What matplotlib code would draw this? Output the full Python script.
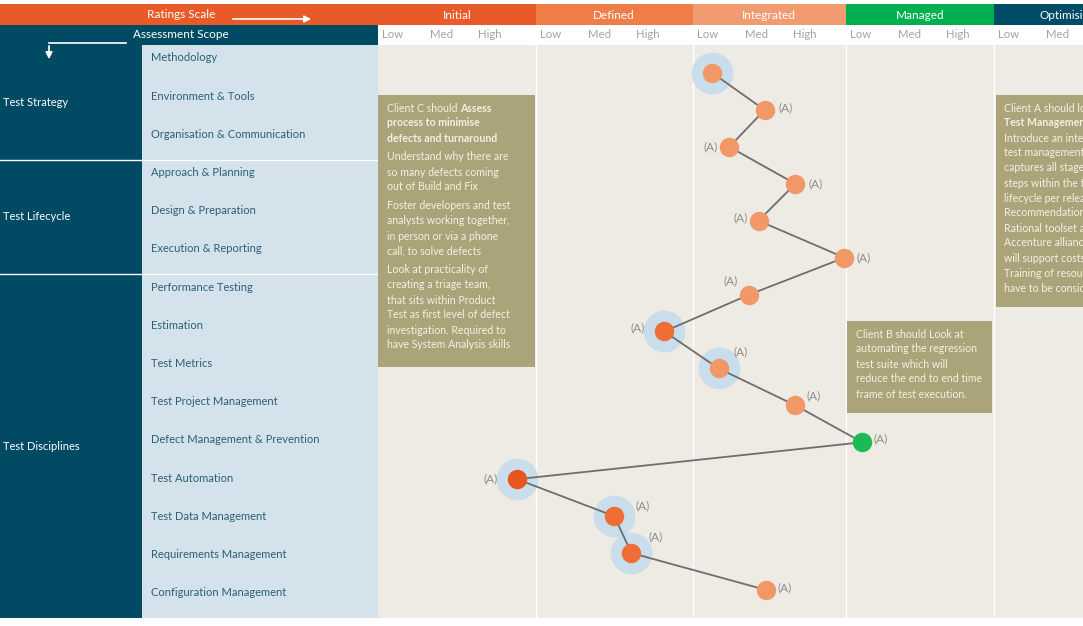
import matplotlib

matplotlib.use("Agg")
import matplotlib.pyplot as plt  # noqa: E402
import numpy as np  # noqa: E402
from matplotlib.patches import Rectangle, FancyArrowPatch  # noqa: E402

plt.rcParams["font.family"] = ["Lato", "DejaVu Sans"]

# --- data -----------------------------------------------------------------
stages = ["Initial", "Defined", "Integrated", "Managed", "Optimising"]
levels = ["Low", "Med", "High"]
groups = ["Test Strategy", "Test Lifecycle", "Test Disciplines"]
group_sizes = [3, 3, 9]
areas = ["Methodology", "Environment & Tools", "Organisation & Communication",
         "Approach & Planning", "Design & Preparation", "Execution & Reporting",
         "Performance Testing", "Estimation", "Test Metrics",
         "Test Project Management", "Defect Management & Prevention",
         "Test Automation", "Test Data Management", "Requirements Management",
         "Configuration Management"]
# rating in stage units: 0 = start of Initial, 1 = start of Defined, ...
scores = [2.13, 2.47, 2.24, 2.67, 2.43, 2.99, 2.37, 1.82, 2.17, 2.67, 3.11,
          0.88, 1.50, 1.61, 2.48]
highlighted = [1, 0, 0, 0, 0, 0, 0, 1, 1, 0, 0, 1, 1, 1, 0]
point_labels = ["", "(A)", "(A)", "(A)", "(A)", "(A)", "(A)", "(A)", "(A)",
                "(A)", "(A)", "(A)", "(A)", "(A)", "(A)"]

# --- style ----------------------------------------------------------------
stage_colors = ["#E85A27", "#EE7D48", "#F29B70", "#00B050", "#004B66"]
point_colors = ["#E8561F", "#EE6E35", "#F29866", "#1DB954", "#004B66"]
stage_widths = [158, 156.5, 153.5, 148, 148]   # pixel width of each stage band
label_offsets = [(0, 0), (21, 2), (-19, 0), (20, 0), (-18, 3), (19, 0),
                 (-19, 14), (-27, 4), (22, 17), (18, 10), (18, 3), (-26, 0),
                 (28, 10), (24, 16), (18, 2)]
TEAL = "#004A64"
PALE = "#D3E2EB"
BG = "#EEEBE4"
BOX = "#ABA47A"
BOX_TXT = "#F4F1E0"

W, H = 1083, 626


def fx(x):
    return x / W


def fy(y):
    return 1 - y / H


def rect(x0, y0, x1, y1, color, z=1):
    fig.add_artist(Rectangle((fx(x0), fy(y1)), (x1 - x0) / W, (y1 - y0) / H,
                             transform=fig.transFigure, color=color, zorder=z,
                             lw=0))


edges = np.concatenate([[0], np.cumsum(stage_widths)])
idx = np.arange(len(edges))


def fwd(x):
    return np.interp(x, idx, edges)


def inv(p):
    return np.interp(p, edges, idx)


fig = plt.figure(figsize=(W / 100, H / 100), dpi=100)
fig.patch.set_facecolor("white")

# --- main chart -----------------------------------------------------------
ax = fig.add_axes([fx(378), fy(618), (W - 378) / W, (618 - 45) / H])
ax.set_xscale("function", functions=(fwd, inv))
ax.set_xlim(0, inv(W - 378))
rows = np.arange(len(areas))
pad = 28 / 36.9
ax.set_ylim(len(areas) - 1 + pad, -pad)
ax.set_facecolor(BG)
for s in ax.spines.values():
    s.set_visible(False)
ax.set_xticks([])
ax.set_yticks([])
for i in range(1, len(stages)):
    ax.axvline(i, color="white", lw=1, zorder=1)

ax.plot(scores, rows, color="#6E6E6E", lw=1.3, zorder=3)
for x, y, h, lab, off in zip(scores, rows, highlighted, point_labels,
                             label_offsets):
    if h:
        ax.plot(x, y, "o", ms=30, color="#C9DDEA", mew=0, zorder=2)
    ax.plot(x, y, "o", ms=14, color=point_colors[int(x)], mew=0, zorder=4)
    if lab:
        ax.annotate(lab, (x, y), xytext=off, textcoords="offset pixels",
                    ha="center", va="center", fontsize=8.5, color="#8C8C8C")

# --- header rows ----------------------------------------------------------
rect(0, 4, 378, 25, stage_colors[0])
rect(0, 25, 378, 45, TEAL)
ax_head = fig.add_axes([fx(378), fy(25), (W - 378) / W, 21 / H], sharex=ax)
ax_lvl = fig.add_axes([fx(378), fy(45), (W - 378) / W, 20 / H], sharex=ax)
for a in (ax_head, ax_lvl):
    a.set_ylim(0, 1)
    a.axis("off")
for i, (name, c) in enumerate(zip(stages, stage_colors)):
    ax_head.axvspan(i, i + 1, color=c, lw=0)
    ax_head.text(i + 0.5, 0.45, name, ha="center", va="center", color="white",
                 fontsize=8.5)
    for j, lv in enumerate(levels):
        ax_lvl.annotate(lv, (i, 0.5), xytext=(15 + 48.5 * j, 0),
                        textcoords="offset pixels", ha="center", va="center",
                        fontsize=8.2, color="#A3A3A3", annotation_clip=False)

fig.text(fx(181), fy(15), "Ratings Scale", ha="center", va="center",
         color="white", fontsize=8.5)
fig.add_artist(FancyArrowPatch((fx(230), fy(19)), (fx(314), fy(19)),
                               transform=fig.transFigure, arrowstyle="-|>",
                               mutation_scale=10, color="white", lw=1.2))
fig.text(fx(181), fy(35), "Assessment Scope", ha="center", va="center",
         color="white", fontsize=8.5)

# --- left panel -----------------------------------------------------------
axl = fig.add_axes([0, fy(618), 378 / W, (618 - 45) / H])
axl.set_xlim(0, 378)
axl.set_ylim(len(areas), 0)
axl.axis("off")
axl.add_patch(Rectangle((0, 0), 142, len(areas), color=TEAL, lw=0))
axl.add_patch(Rectangle((142, 0), 236, len(areas), color=PALE, lw=0))
start = 0
for g, n in zip(groups, group_sizes):
    if start:
        axl.plot([0, 378], [start, start], color="white", lw=1)
    axl.text(3, start + n / 2, g, ha="left", va="center", color="white",
             fontsize=8)
    start += n
for i, a in enumerate(areas):
    axl.text(151, i + 0.34, a, ha="left", va="center", color="#2D5F76",
             fontsize=8)

fig.add_artist(plt.Line2D([fx(49), fx(126)], [fy(43), fy(43)],
                          transform=fig.transFigure, color="white", lw=1.2))
fig.add_artist(FancyArrowPatch((fx(49), fy(43)), (fx(49), fy(62)),
                               transform=fig.transFigure, arrowstyle="-|>",
                               mutation_scale=10, color="white", lw=1.2))

# --- recommendation boxes -------------------------------------------------
rect(378, 95, 535, 367, BOX, z=5)
rect(847, 321, 992, 413, BOX, z=5)
rect(996, 95, W, 307, BOX, z=5)


def box_lines(x, lines):
    for y, txt, bold in lines:
        fig.text(fx(x), fy(y), txt, ha="left", va="center", color=BOX_TXT,
                 fontsize=7.6, fontweight="bold" if bold else "normal",
                 zorder=6)


def para(y0, lines, bold=False):
    return [(y0 + 15 * k, t, bold) for k, t in enumerate(lines)]


first_c = fig.text(fx(387), fy(108), "Client C should ", ha="left",
                   va="center", color=BOX_TXT, fontsize=7.6, zorder=6)
fig.canvas.draw()
bb = first_c.get_window_extent()
fig.text(bb.x1 / W, fy(108), "Assess", ha="left", va="center",
         color=BOX_TXT, fontsize=7.6, fontweight="bold", zorder=6)

box_lines(387, para(123, ["process to minimise", "defects and turnaround"],
                    bold=True)
          + para(157, ["Understand why there are", "so many defects coming",
                       "out of Build and Fix"])
          + para(206, ["Foster developers and test",
                       "analysts working together,",
                       "in person or via a phone", "call, to solve defects"])
          + para(270, ["Look at practicality of", "creating a triage team,",
                       "that sits within Product",
                       "Test as first level of defect",
                       "investigation. Required to",
                       "have System Analysis skills"]))

box_lines(856, para(334, ["Client B should Look at",
                          "automating the regression",
                          "test suite which will",
                          "reduce the end to end time",
                          "frame of test execution."]))

box_lines(1004, para(108, ["Client A should look at"])
          + para(123, ["Test Management"], bold=True)
          + para(138, ["Introduce an integrated",
                       "test management tool that",
                       "captures all stages and",
                       "steps within the test",
                       "lifecycle per release.",
                       "Recommendation is the",
                       "Rational toolset as the",
                       "Accenture alliance",
                       "will support costs.",
                       "Training of resources will",
                       "have to be considered."]))

fig.savefig("out.png", dpi=100)
plt.close(fig)
